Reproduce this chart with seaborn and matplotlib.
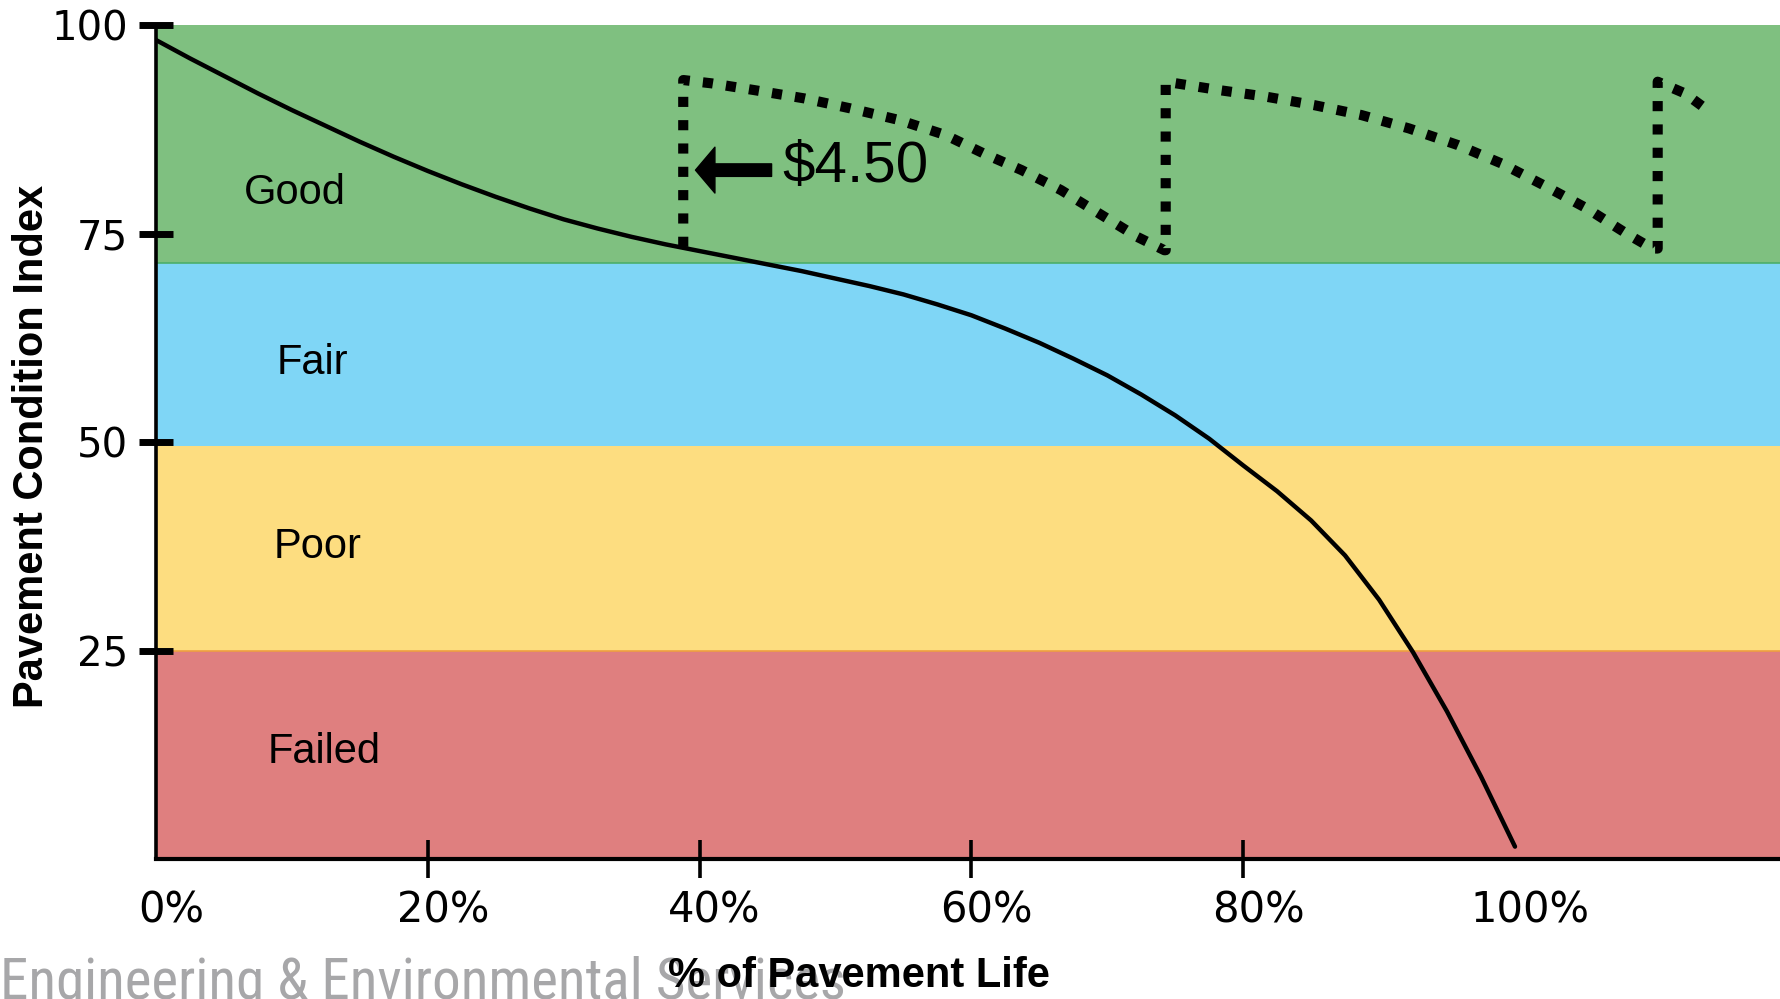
import matplotlib
matplotlib.use('Agg')
import matplotlib.pyplot as plt
import matplotlib.transforms as mtransforms
from matplotlib import font_manager
import seaborn as sns
import pandas as pd

# --- data ---
life_pct = [0, 2.5, 5, 7.5, 10, 12.5, 15, 17.5, 20, 22.5, 25, 27.5, 30, 32.5, 35, 37.5,
            40, 42.5, 45, 47.5, 50, 52.5, 55, 57.5, 60, 62.5, 65, 67.5, 70, 72.5, 75,
            77.5, 80, 82.5, 85, 87.5, 90, 92.5, 95, 97.5, 100]
pci = [98.2, 96.0, 93.9, 91.8, 89.8, 87.9, 86.0, 84.2, 82.5, 80.9, 79.4, 78.0, 76.7, 75.6,
       74.6, 73.7, 72.9, 72.1, 71.3, 70.5, 69.6, 68.7, 67.7, 66.5, 65.2, 63.6, 61.9, 60.0,
       58.0, 55.7, 53.2, 50.4, 47.2, 44.1, 40.6, 36.4, 31.1, 24.8, 17.7, 9.9, 1.5]

# maintenance (dotted) path: treatment, decline, treatment, decline, treatment
treat_x = [38.8, 38.8, 40.9, 44.0, 47.7, 51.1, 54.7, 58.1, 60.9, 63.7, 66.6, 69.4, 72.2, 74.2,
           74.3, 74.3, 78.2, 81.7, 85.2, 88.7, 92.2, 95.8, 99.0, 102.1, 105.3, 108.2, 110.1,
           110.5, 110.5, 112.5, 114.0]
treat_y = [73.4, 93.4, 93.0, 92.2, 91.2, 90.0, 88.6, 86.8, 84.6, 82.6, 80.2, 77.4, 74.6, 73.0,
           73.0, 93.2, 92.2, 91.4, 90.4, 89.2, 87.6, 85.6, 83.4, 80.8, 78.0, 75.0, 73.2,
           73.2, 93.2, 91.8, 90.0]

band_names = ['Failed', 'Poor', 'Fair', 'Good']
band_low = [0, 25, 49.5, 71.5]
band_high = [25, 49.5, 71.5, 100]
band_colors = ['#df7f7f', '#fddd80', '#7fd6f6', '#7fc080']
band_label_x = [12.4, 11.9, 11.5, 10.2]
band_label_y = [12.8, 37.4, 59.5, 79.9]

x_ticks = [0, 20, 40, 60, 80, 100]
x_tick_labels = ['0%', '20%', '40%', '60%', '80%', '100%']
y_ticks = [25, 50, 75, 100]

cost_label = '$4.50'

sns.set_style('white')
plt.rcParams['font.family'] = ['DejaVu Sans']
plt.rcParams['text.color'] = 'black'
plt.rcParams['axes.labelcolor'] = 'black'

# pick a condensed face for the logo if one is installed
installed = {f.name for f in font_manager.fontManager.ttflist}
if 'Liberation Sans Narrow' in installed:
    logo_font, logo_size = 'Liberation Sans Narrow', 42
elif 'Roboto Condensed' in installed:
    logo_font, logo_size = 'Roboto Condensed', 41
else:
    logo_font, logo_size = 'Liberation Sans', 35

fig = plt.figure(figsize=(17.8, 9.99), dpi=100)
ax = fig.add_axes([0.0876, 0.14, 0.9124, 0.835])

# condition bands
for lo, hi, c in zip(band_low, band_high, band_colors):
    ax.axhspan(lo, hi, color=c, lw=0, zorder=0)
ax.axhline(band_low[3], color='#4caf6a', lw=1.2, zorder=0.5)
ax.axhline(band_high[0], color='#eea040', lw=1.2, zorder=0.5)

for name, bx, by in zip(band_names, band_label_x, band_label_y):
    ax.text(bx, by, name, fontsize=30, family=['Liberation Sans', 'DejaVu Sans'],
            ha='center', va='center', color='black')

# deterioration curve
curve = pd.DataFrame({'life': life_pct, 'pci': pci})
sns.lineplot(data=curve, x='life', y='pci', color='black', lw=3.2, ax=ax,
             estimator=None, sort=False, zorder=3)

# preservation path
treat = pd.DataFrame({'life': treat_x, 'pci': treat_y})
sns.lineplot(data=treat, x='life', y='pci', color='black', lw=7.3, ax=ax,
             estimator=None, sort=False, zorder=3, linestyle=(0, (1, 1.3)))

# cost arrow + label
ax.annotate('', xy=(39.7, 82.6), xytext=(45.3, 82.6),
            arrowprops=dict(facecolor='black', edgecolor='black', width=9,
                            headwidth=33, headlength=14, shrink=0))
ax.text(46.1, 83.0, cost_label, fontsize=42, family=['Liberation Sans', 'DejaVu Sans'],
        ha='left', va='center', color='black')

ax.set_xlim(0, 119.5)
ax.set_ylim(0, 100)

sns.despine(ax=ax, top=True, right=True)
for side, w in (('left', 2.6), ('bottom', 3.0)):
    ax.spines[side].set_linewidth(w)
    ax.spines[side].set_color('black')
    ax.spines[side].set_zorder(5)

ax.set_yticks(y_ticks)
ax.set_yticklabels([str(v) for v in y_ticks])
ax.tick_params(axis='y', left=True, direction='inout', length=24, width=5, pad=8,
               labelsize=29, color='black', labelcolor='black')

ax.set_xticks(x_ticks)
ax.set_xticklabels(x_tick_labels)
ax.tick_params(axis='x', bottom=True, direction='inout', length=27, width=2.6, pad=8,
               labelsize=30, color='black', labelcolor='black')
for t in ax.xaxis.get_major_ticks():
    if t.get_loc() in (0, 100):
        t.tick1line.set_visible(False)
shift = mtransforms.ScaledTranslation(0.15, 0, fig.dpi_scale_trans)
for lbl in ax.get_xticklabels():
    lbl.set_transform(lbl.get_transform() + shift)

ax.set_ylabel('Pavement Condition Index', fontsize=30, fontweight='bold',
              family=['Liberation Sans', 'DejaVu Sans'], va='center', color='black')
ax.yaxis.set_label_coords(-0.076, 0.495)
ax.set_xlabel('% of Pavement Life', fontsize=30, fontweight='bold',
              family=['Liberation Sans', 'DejaVu Sans'], va='center', color='black')
ax.xaxis.set_label_coords(0.433, -0.14)

# logo text at the bottom left
fig.text(0.0, 0.001, 'Engineering & Environmental Services', fontsize=logo_size,
         family=[logo_font, 'DejaVu Sans'], color='#a7a7a9',
         ha='left', va='baseline', zorder=-1)

fig.savefig('out.png', dpi=100)
